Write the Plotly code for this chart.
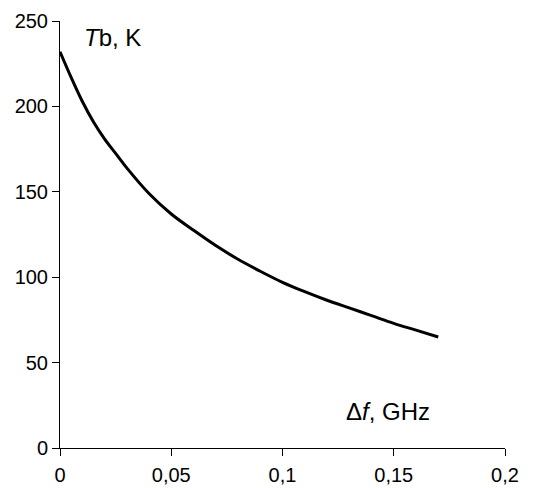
import plotly.graph_objects as go

# Brightness temperature Tb (K) against frequency offset Δf (GHz)
delta_f = [0.0, 0.005, 0.01, 0.015, 0.02, 0.025, 0.03, 0.04, 0.05, 0.06,
           0.07, 0.08, 0.09, 0.1, 0.11, 0.12, 0.13, 0.14, 0.15, 0.16, 0.17]
tb = [232, 217, 203, 191, 181, 172.5, 164, 149, 137, 127.5,
      118.5, 110.5, 103.5, 97, 91.5, 86.5, 82, 77.5, 73, 69, 65]

x_ticks = [0, 0.05, 0.1, 0.15, 0.2]
y_ticks = [0, 50, 100, 150, 200, 250]

font_family = "Arial, Liberation Sans, sans-serif"

fig = go.Figure()
fig.add_trace(go.Scatter(
    x=delta_f, y=tb, mode="lines",
    line=dict(color="black", width=3, shape="spline", smoothing=1.0),
    hoverinfo="skip", showlegend=False,
))

axis_common = dict(
    showgrid=False, zeroline=False, showline=True, linecolor="black",
    linewidth=1, ticks="outside", ticklen=7, tickcolor="black", tickwidth=1,
    automargin=False,
    tickfont=dict(family=font_family, size=20, color="black"),
)

fig.update_layout(
    width=536, height=488,
    margin=dict(l=60, r=31, t=21, b=40),
    paper_bgcolor="white", plot_bgcolor="white",
    separators=", ",
    xaxis=dict(range=[0, 0.2], tickvals=x_ticks, ticklabelstandoff=2,
               **axis_common),
    yaxis=dict(range=[0, 250], tickvals=y_ticks, **axis_common),
    annotations=[
        dict(text="<i>T</i>b, K", x=0.0099, y=240.5, xref="x", yref="y",
             xanchor="left", yanchor="middle", showarrow=False,
             font=dict(family=font_family, size=24, color="black")),
        dict(text="Δ<i>f</i>, GHz", x=0.1276, y=21.5, xref="x", yref="y",
             xanchor="left", yanchor="middle", showarrow=False,
             font=dict(family=font_family, size=24, color="black")),
    ],
)

fig.write_html("out.html")
